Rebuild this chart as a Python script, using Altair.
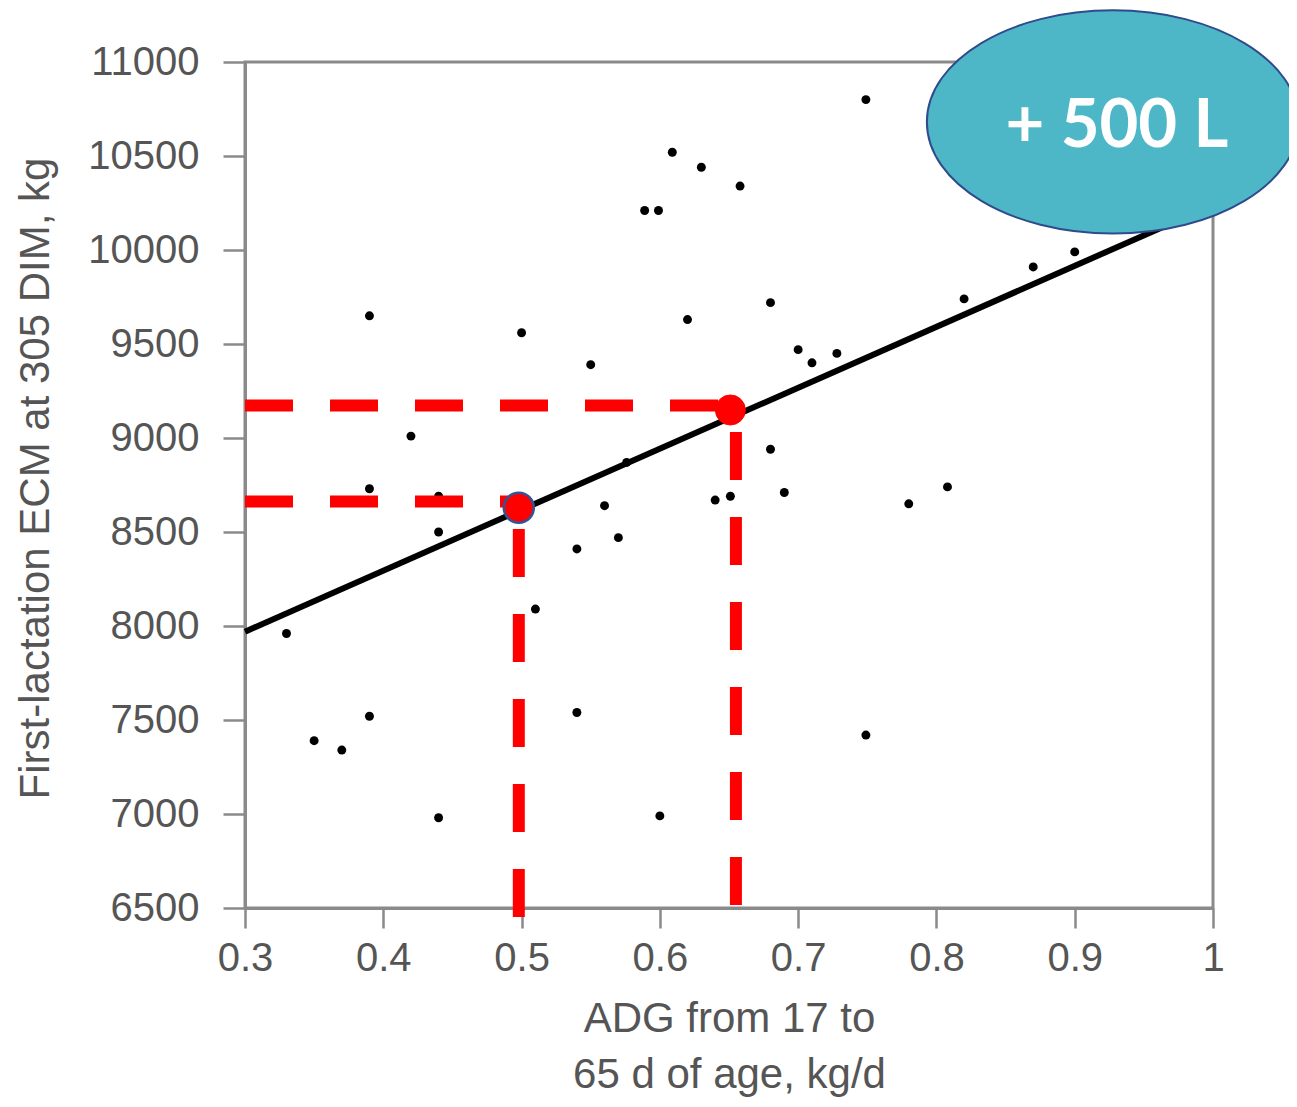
import altair as alt
import pandas as pd

# Scatter data
adg = [0.33, 0.35, 0.37, 0.39, 0.39, 0.39, 0.42, 0.44, 0.44, 0.44,
       0.50, 0.51, 0.54, 0.54, 0.55, 0.56, 0.57, 0.576, 0.589, 0.599,
       0.60, 0.609, 0.62, 0.63, 0.64, 0.651, 0.658, 0.68, 0.68, 0.69,
       0.70, 0.71, 0.728, 0.749, 0.749, 0.78, 0.808, 0.82, 0.87, 0.90]
ecm = [7960, 7390, 7340, 7520, 9650, 8730, 9010, 6980, 8500, 8690,
       9560, 8090, 8410, 7540, 9390, 8640, 8470, 8870, 10210, 10210,
       6990, 10520, 9630, 10440, 8670, 8690, 10340, 9720, 8940, 8710,
       9470, 9400, 9450, 10800, 7420, 8650, 8740, 9740, 9910, 9990]

# Regression line endpoints
fit_x = [0.3, 1.0]
fit_y = [7970, 10240]

# Highlighted points
hl_x = [0.498, 0.651]
hl_y = [8629, 9149]

# Dashed guide lines
h_y = [8662, 9173]
h_x_end = [0.498, 0.651]
v_x = [0.498, 0.655]
v_bottom = [6452, 6516]
v_top = [8629, 9149]

# Annotation
note_text = ["+ 500 L"]
note_x = [0.9276]
note_y = [10681]
note_text_y = [10548]
note_text_x = [0.9305]

x_ticks = [0.3, 0.4, 0.5, 0.6, 0.7, 0.8, 0.9, 1.0]
y_ticks = [6500, 7000, 7500, 8000, 8500, 9000, 9500, 10000, 10500, 11000]

x_title = ["ADG from 17 to", "65 d of age, kg/d"]
y_title = "First-lactation ECM at 305 DIM, kg"

GRAY = "#8a8a8a"
LABEL = "#555555"

xscale = alt.Scale(domain=[0.3, 1.0], nice=False, zero=False)
yscale = alt.Scale(domain=[6500, 11000], nice=False, zero=False)

x_axis = alt.Axis(values=x_ticks, format=".1~f", grid=False, domainColor=GRAY,
                  domainWidth=3, tickColor=GRAY, tickWidth=2.5, tickSize=20,
                  labelFont="Liberation Sans", labelFontSize=40, labelColor=LABEL,
                  labelPadding=10, labelFlush=False, labelOverlap=False,
                  titleFont="Liberation Sans", titleFontSize=42, titleColor=LABEL,
                  titleFontWeight="normal", titleX=484, titleY=123,
                  titleAlign="center", titleBaseline="alphabetic",
                  titleLineHeight=56, zindex=0)
y_axis = alt.Axis(values=y_ticks, format="d", grid=False, domainColor=GRAY,
                  domainWidth=3, tickColor=GRAY, tickWidth=2.5, tickSize=22,
                  labelFont="Liberation Sans", labelFontSize=40, labelColor=LABEL,
                  labelPadding=24, labelFlush=False, labelOverlap=False,
                  titleFont="Liberation Sans", titleFontSize=42, titleColor=LABEL,
                  titleFontWeight="normal", titleAngle=270, titleX=-197, titleY=416,
                  titleAlign="center", titleBaseline="alphabetic", zindex=0)


def X(field):
    return alt.X(field, type="quantitative", scale=xscale, axis=x_axis, title=x_title)


def Y(field):
    return alt.Y(field, type="quantitative", scale=yscale, axis=y_axis, title=y_title)


pts = pd.DataFrame({"x": adg, "y": ecm})
fit = pd.DataFrame({"x": fit_x, "y": fit_y})
hl = pd.DataFrame({"x": hl_x, "y": hl_y})
hd = pd.DataFrame({"x": [0.3, 0.3], "x2": h_x_end, "y": h_y})
vd = pd.DataFrame({"x": v_x, "y": v_bottom, "y2": v_top})
note = pd.DataFrame({"x": note_x, "y": note_y})
note_t = pd.DataFrame({"x": note_text_x, "y": note_text_y, "t": note_text})

points = alt.Chart(pts).mark_circle(size=80, color="black", opacity=1).encode(x=X("x"), y=Y("y"))
line = alt.Chart(fit).mark_line(color="black", strokeWidth=6).encode(x=X("x"), y=Y("y"))
hrules = alt.Chart(hd).mark_rule(color="#ff0000", strokeWidth=12, strokeDash=[48, 37]).encode(
    x=X("x"), x2="x2", y=Y("y"))
vrules = alt.Chart(vd).mark_rule(color="#ff0000", strokeWidth=12, strokeDash=[48, 37]).encode(
    x=X("x"), y=Y("y"), y2="y2")
dot1 = alt.Chart(hl.iloc[[0]]).mark_point(shape="circle", filled=True, fill="#ff0000",
                                          stroke="#2f5597", strokeWidth=2.5, size=900,
                                          opacity=1).encode(x=X("x"), y=Y("y"))
dot2 = alt.Chart(hl.iloc[[1]]).mark_point(shape="circle", filled=True, fill="#ff0000",
                                          stroke="#ff0000", strokeWidth=1, size=900,
                                          opacity=1).encode(x=X("x"), y=Y("y"))
ellipse_path = ("M 1 0 C 1 0.3314 0.5523 0.6 0 0.6 C -0.5523 0.6 -1 0.3314 -1 0 "
                "C -1 -0.3314 -0.5523 -0.6 0 -0.6 C 0.5523 -0.6 1 -0.3314 1 0 Z")
ellipse = alt.Chart(note).mark_point(shape=ellipse_path, filled=True, fill="#4eb7c7",
                                     stroke="#2f4b8c", strokeWidth=2, size=138384,
                                     opacity=1).encode(x=X("x"), y=Y("y"))
label = alt.Chart(note_t).mark_text(font="Lato", fontSize=67, fontWeight="bold",
                                    color="white", align="center",
                                    baseline="alphabetic").encode(x=X("x"), y=Y("y"), text="t:N")

chart = alt.layer(points, line, hrules, vrules, dot1, dot2, ellipse, label).properties(
    width=968, height=846,
    autosize=alt.AutoSizeParams(type="none"),
    padding={"left": 237, "top": 54, "right": 76, "bottom": 190},
).configure_view(stroke=GRAY, strokeWidth=3)

chart.save("out.html", embed_options={"renderer": "svg", "actions": False})
